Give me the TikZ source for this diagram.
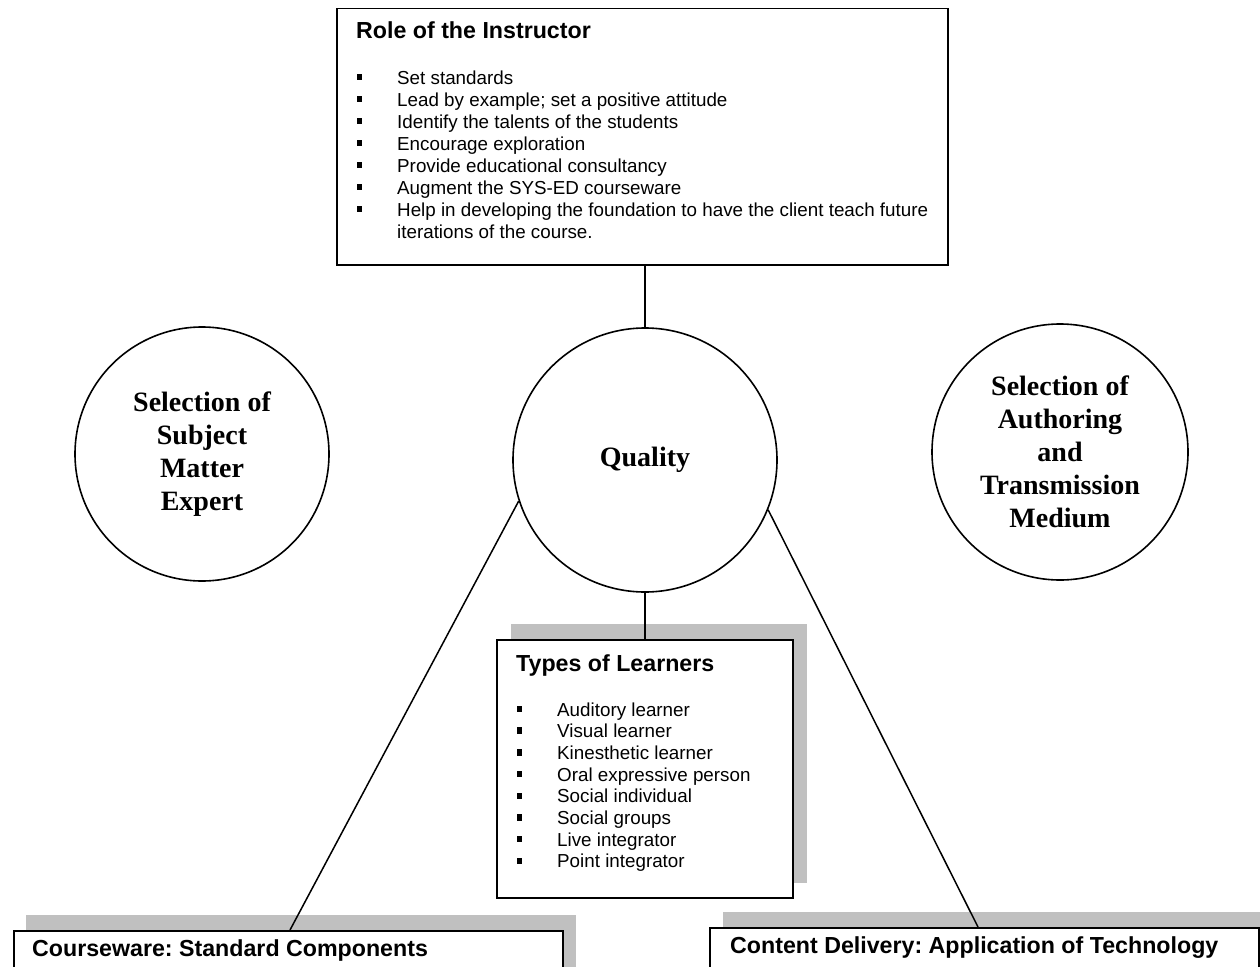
\documentclass[tikz,border=0pt]{standalone}
\usepackage{fontspec}
\setmainfont{Liberation Serif}
\newfontfamily\arialf{Liberation Sans}
\definecolor{shadowgray}{HTML}{C0C0C0}
\frenchspacing
\tikzset{
  boxline/.style={draw=black, line width=1.5pt, fill=white, rectangle, anchor=north west, inner sep=0},
  titletext/.style={font=\arialf\bfseries\fontsize{23.2}{27}\selectfont, anchor=base west, inner sep=0},
  itemtext/.style={font=\arialf\fontsize{18.8}{22}\selectfont, anchor=base west, inner sep=0},
  sqbullet/.style={fill=black, draw=none, rectangle, minimum width=5pt, minimum height=6.5pt, inner sep=0},
  circ/.style={circle, draw=black, line width=1.6pt, align=center, inner sep=0,
    font=\bfseries\fontsize{28}{33}\selectfont},
  conn/.style={draw=black, line width=1.5pt}
}
\begin{document}
\begin{tikzpicture}[x=1pt,y=-1pt]
\useasboundingbox (0,0) rectangle (1260,966);
\fill[white] (0,0) rectangle (1260,966);
\clip (0,0) rectangle (1260,966);

% Role of the Instructor
\node[boxline, minimum width=611pt, minimum height=256pt] (instr) at (336,8) {};
\node[titletext] (instrt) at (356,39) {Role of the Instructor};
\foreach \t [count=\i] in {Set standards, {Lead by example; set a positive attitude},
  Identify the talents of the students, Encourage exploration,
  Provide educational consultancy, Augment the SYS-ED courseware,
  Help in developing the foundation to have the client teach future}{
  \node[sqbullet] (rb\i) at (359.5,{84+22*(\i-1)-7}) {};
  \node[itemtext] (ri\i) at (397,{84+22*(\i-1)}) {\t};
}
\node[itemtext] (ri8) at (397,238) {iterations of the course.};

% circles
\node[circ, minimum size=264pt] (q) at (645,460) {Quality};
\node[circ, minimum size=254pt] (sme) at (202,454) {Selection of\\Subject\\Matter\\Expert};
\node[circ, minimum size=256pt] (atm) at (1060,452) {Selection of\\Authoring\\and\\Transmission\\Medium};

% Types of Learners
\fill[shadowgray] (511,624) rectangle (807,883);
\node[boxline, minimum width=296pt, minimum height=258pt] (learn) at (496,639) {};
\node[titletext] (learnt) at (516,671) {Types of Learners};
\foreach \t [count=\i] in {Auditory learner, Visual learner, Kinesthetic learner,
  Oral expressive person, Social individual, Social groups, Live integrator, Point integrator}{
  \node[sqbullet] (lb\i) at (519.5,{716+21.7*(\i-1)-7}) {};
  \node[itemtext] (li\i) at (557,{716+21.7*(\i-1)}) {\t};
}

% bottom boxes
\fill[shadowgray] (26,915) rectangle (576,1000);
\node[boxline, minimum width=549pt, minimum height=80pt] (cw) at (13,930) {};
\node[titletext] (cwt) at (32,956) {Courseware: Standard Components};
\fill[shadowgray] (723,912) rectangle (1280,1000);
\node[boxline, minimum width=549pt, minimum height=80pt] (cd) at (709,927) {};
\node[titletext] (cdt) at (730,953) {Content Delivery: Application of Technology};

% connectors
\coordinate (cwtop) at (290,930);
\coordinate (cdtop) at (978,927);
\draw[conn] (q.north) -- (q.north |- instr.south);
\draw[conn] (q.south) -- (q.south |- learn.north);
\draw[conn] (q.198.6) -- (cwtop);
\draw[conn] (q.-22) -- (cdtop);
\end{tikzpicture}
\end{document}
